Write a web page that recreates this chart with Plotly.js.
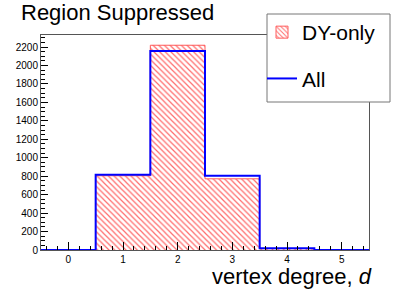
<!DOCTYPE html>
<html>
<head>
<meta charset="utf-8">
<script src="https://cdn.plot.ly/plotly-3.0.1.min.js"></script>
<style>html,body{margin:0;padding:0;background:#fff;}#plot{width:411px;height:295px;}</style>
</head>
<body>
<div id="plot"></div>
<script>
// Data (vertex degree bins)
const binCenters = [0, 1, 2, 3, 4, 5];
const dyOnly = [0, 805, 2220, 772, 15, 0];
const allEvents = [0, 815, 2157, 805, 20, 0];
const xTickVals = [0, 1, 2, 3, 4, 5];
const yTickVals = [0, 200, 400, 600, 800, 1000, 1200, 1400, 1600, 1800, 2000, 2200];

// step outlines built from bin edges
const edges = binCenters.map(c => c - 0.5).concat([binCenters[binCenters.length - 1] + 0.5]);
const stepAll = allEvents.concat([allEvents[allEvents.length - 1]]);
const stepDY = dyOnly.concat([dyOnly[dyOnly.length - 1]]);

const W = 411, H = 295;
const L = 41, R = 42, T = 35, B = 45;
const pw = W - L - R, ph = H - T - B;
const px2x = p => (p - L) / pw;
const py2y = p => (H - B - p) / ph;

const hatch = {shape: '\\', fgcolor: '#ff6a6a', bgcolor: 'rgba(0,0,0,0)', size: 4, solidity: 0.3};

const traces = [
  {
    type: 'bar', name: 'DY-only', x: binCenters, y: dyOnly, width: 1,
    showlegend: false,
    marker: {color: 'rgba(0,0,0,0)', line: {width: 0}, pattern: hatch},
    hoverinfo: 'skip'
  },
  {
    type: 'scatter', mode: 'lines', name: 'DY-only outline', x: edges, y: stepDY,
    showlegend: false,
    line: {shape: 'hv', color: '#ff5c5c', width: 1},
    hoverinfo: 'skip'
  },
  {
    // legend entry for the hatched DY-only histogram
    type: 'bar', name: 'DY-only', x: [null], y: [null],
    legendgroup: 'a',
    marker: {color: 'rgba(0,0,0,0)', line: {color: '#ff5c5c', width: 1}, pattern: hatch},
    hoverinfo: 'skip'
  },
  {
    type: 'scatter', mode: 'lines', name: 'All', x: edges, y: stepAll,
    legendgroup: 'b',
    line: {shape: 'hv', color: '#0000ff', width: 2},
    hoverinfo: 'skip'
  }
];

const font = 'Liberation Sans, Arial, Helvetica, sans-serif';

const layout = {
  width: W, height: H,
  margin: {l: L, r: R, t: T, b: B, pad: 0},
  paper_bgcolor: '#fff', plot_bgcolor: '#fff',
  font: {family: font, color: '#000', size: 10},
  title: {
    text: 'Region Suppressed', font: {family: font, size: 22, color: '#000'},
    x: 21 / W, xanchor: 'left', xref: 'container',
    y: 1 - 5 / H, yanchor: 'top', yref: 'container'
  },
  showlegend: true,
  legend: {
    x: px2x(262), xanchor: 'left', y: py2y(12), yanchor: 'top',
    bgcolor: 'rgba(0,0,0,0)', borderwidth: 0,
    font: {family: font, size: 21, color: '#000'},
    traceorder: 'grouped', tracegroupgap: 16
  },
  bargap: 0,
  barmode: 'overlay',
  xaxis: {
    range: [-0.5, 5.5], tickvals: xTickVals, ticktext: xTickVals.map(String),
    ticks: 'inside', ticklen: 8, tickcolor: '#000', tickwidth: 1,
    minor: {dtick: 0.2, tick0: 0, ticks: 'inside', ticklen: 4, tickcolor: '#000'},
    showline: true, linecolor: '#555', linewidth: 1, mirror: true,
    showgrid: false, zeroline: false, fixedrange: true,
    tickfont: {family: font, size: 10, color: '#000'}
  },
  yaxis: {
    range: [0, 2331], tickvals: yTickVals, ticktext: yTickVals.map(String),
    ticks: 'inside', ticklen: 7, tickcolor: '#000', tickwidth: 1,
    minor: {dtick: 50, tick0: 0, ticks: 'inside', ticklen: 3.5, tickcolor: '#000'},
    showline: true, linecolor: '#555', linewidth: 1, mirror: true,
    showgrid: false, zeroline: false, fixedrange: true,
    tickfont: {family: font, size: 10, color: '#000'}
  },
  shapes: [
    {type: 'rect', xref: 'paper', yref: 'paper', layer: 'above',
     x0: px2x(267), x1: px2x(390), y0: py2y(102), y1: py2y(14),
     fillcolor: '#fff', line: {color: '#777', width: 1}}
  ],
  annotations: [
    {text: 'vertex degree, <i>d</i>', xref: 'paper', yref: 'paper',
     x: px2x(373), xanchor: 'right', y: py2y(276), yanchor: 'middle',
     borderpad: 0, showarrow: false, font: {family: font, size: 22, color: '#000'}}
  ]
};

Plotly.newPlot('plot', traces, layout, {staticPlot: true, displayModeBar: false});
</script>
</body>
</html>
